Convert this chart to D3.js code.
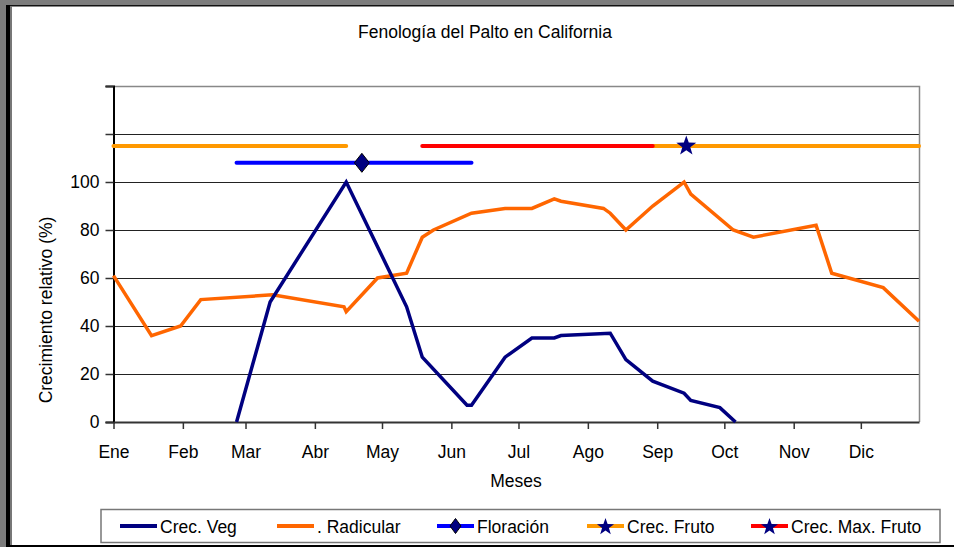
<!DOCTYPE html>
<html>
<head>
<meta charset="utf-8">
<script src="https://cdn.jsdelivr.net/npm/d3@7"></script>
<style>
  body { margin: 0; background: #fff; }
  text { font-family: "Liberation Sans", Arial, sans-serif; fill: #000; }
</style>
</head>
<body>
<div class="chart"></div>
<script>
// data (month-day, %)
const months = ["Ene", "Feb", "Mar", "Abr", "May", "Jun", "Jul", "Ago", "Sep", "Oct", "Nov", "Dic"];
const yTicks = [0, 20, 40, 60, 80, 100, 120, 140];
const yLabels = [0, 20, 40, 60, 80, 100];

const vegDates  = ["02-25","03-12","04-15","05-12","05-19","06-08","06-10","06-25","07-07","07-17","07-20","08-11","08-18","08-30","09-13","09-16","09-29","10-06"];
const vegValues = [0, 50, 100, 48, 27, 7, 7, 27, 35, 35, 36, 37, 26, 17, 12, 9, 6, 0];

const radDates  = ["01-01","01-18","01-31","02-09","03-13","04-14","04-15","04-29","05-12","05-19","05-24","06-10","06-25","07-07","07-17","07-20","08-08","08-11","08-18","08-30","09-13","09-16","10-05","10-14","11-11","11-18","12-11","12-27"];
const radValues = [61, 36, 40, 51, 53, 48, 46, 60, 62, 77, 80, 87, 89, 89, 93, 92, 89, 87, 80, 90, 100, 95, 80, 77, 82, 62, 56, 42];

// phenology bars
const floracion = {dates: ["02-25", "06-10"], value: 108, marker: "04-22"};
const frutoSegments = [["01-01", "04-15"], ["08-30", "12-27"]];
const frutoValue = 115;
const frutoMarker = "09-14";
const maxFruto = {dates: ["05-19", "08-30"], value: 115};

const legendItems = [
    {label: "Crec. Veg", color: "#000080", marker: null},
    {label: ". Radicular", color: "#ff6600", marker: null},
    {label: "Floración", color: "#0000ff", marker: "diamond"},
    {label: "Crec. Fruto", color: "#ff9900", marker: "star"},
    {label: "Crec. Max. Fruto", color: "#ff0000", marker: "star"}
];

const W = 954, H = 547;
const parse = d3.timeParse("%m-%d");

const svg = d3.select(".chart").append("svg")
    .attr("width", W)
    .attr("height", H);

// window frame
svg.append("rect").attr("x", 0).attr("y", 0).attr("width", W).attr("height", 5).attr("fill", "#7c7c7c");
svg.append("rect").attr("x", 0).attr("y", 5).attr("width", W).attr("height", 1.5).attr("fill", "#111");
svg.append("rect").attr("x", 0).attr("y", 0).attr("width", 6).attr("height", H).attr("fill", "#7c7c7c");
svg.append("rect").attr("x", 6).attr("y", 5).attr("width", 4).attr("height", H).attr("fill", "#000");
svg.append("rect").attr("x", 10).attr("y", 6).attr("width", 2).attr("height", H).attr("fill", "#777");
svg.append("rect").attr("x", 6).attr("y", 545).attr("width", W).attr("height", 2).attr("fill", "#000");

// scales
const x = d3.scaleTime()
    .domain([parse("01-01"), parse("12-27")])
    .range([113.5, 919]);
const y = d3.scaleLinear()
    .domain([0, 140])
    .range([422, 86]);

// title
svg.append("text")
    .attr("x", 485).attr("y", 38)
    .attr("text-anchor", "middle")
    .style("font-size", "17.5px")
    .text("Fenología del Palto en California");

// gridlines
svg.append("g")
    .selectAll("line")
    .data(yTicks.filter(d => d > 0 && d < 140))
    .join("line")
    .attr("x1", x.range()[0]).attr("x2", x.range()[1])
    .attr("y1", d => Math.round(y(d)) + 0.5).attr("y2", d => Math.round(y(d)) + 0.5)
    .attr("stroke", "#222")
    .attr("stroke-width", 1);

// plot border (top and right)
svg.append("path")
    .attr("d", `M${x.range()[0]},${y(140) + 0.5}H${x.range()[1] + 0.5}V${y(0)}`)
    .attr("fill", "none")
    .attr("stroke", "#888")
    .attr("stroke-width", 1.5);

// y axis
const yAxis = svg.append("g")
    .attr("transform", `translate(${x.range()[0]},0)`)
    .call(d3.axisLeft(y).tickValues(yTicks).tickSize(8).tickFormat(d => yLabels.includes(d) ? d : ""));
yAxis.select(".domain").attr("stroke", "#000").attr("stroke-width", 2);
yAxis.selectAll(".tick line").attr("stroke", "#333").attr("stroke-width", 1.5);
yAxis.selectAll(".tick text")
    .attr("x", -14)
    .style("font-size", "17.5px")
    .style("font-family", "'Liberation Sans', Arial, sans-serif");

// x axis
const xAxis = svg.append("g")
    .attr("transform", `translate(0,${y(0)})`)
    .call(d3.axisBottom(x)
        .ticks(d3.timeMonth.every(1))
        .tickSize(7)
        .tickSizeOuter(0)
        .tickFormat(d => months[d.getMonth()]));
xAxis.select(".domain").attr("stroke", "#333").attr("stroke-width", 2);
xAxis.selectAll(".tick line").attr("stroke", "#333").attr("stroke-width", 1.5);
xAxis.selectAll(".tick text")
    .attr("y", 24)
    .style("font-size", "17.5px")
    .style("font-family", "'Liberation Sans', Arial, sans-serif");

// axis titles
svg.append("text")
    .attr("x", 516).attr("y", 487)
    .attr("text-anchor", "middle")
    .style("font-size", "17.5px")
    .text("Meses");
svg.append("text")
    .attr("transform", "translate(52,310) rotate(-90)")
    .attr("text-anchor", "middle")
    .style("font-size", "17.5px")
    .text("Crecimiento relativo (%)");

const line = d3.line()
    .x(d => x(parse(d[0])))
    .y(d => y(d[1]));

// marker shapes
function diamondPath(w, h) {
    return `M0,${-h / 2}L${w / 2},0L0,${h / 2}L${-w / 2},0Z`;
}
function starPath(R, r) {
    const pts = d3.range(10).map(i => {
        const a = -Math.PI / 2 + i * Math.PI / 5;
        const rad = i % 2 === 0 ? R : r;
        return [rad * Math.cos(a), rad * Math.sin(a)];
    });
    return "M" + pts.join("L") + "Z";
}

// phenology bars
frutoSegments.forEach(seg => {
    svg.append("path")
        .datum(seg.map(d => [d, frutoValue]))
        .attr("d", line)
        .attr("fill", "none")
        .attr("stroke", "#ff9900")
        .attr("stroke-width", 4)
        .attr("stroke-linecap", "round");
});
svg.append("path")
    .datum(maxFruto.dates.map(d => [d, maxFruto.value]))
    .attr("d", line)
    .attr("fill", "none")
    .attr("stroke", "#ff0000")
    .attr("stroke-width", 4)
    .attr("stroke-linecap", "round");
svg.append("path")
    .datum(floracion.dates.map(d => [d, floracion.value]))
    .attr("d", line)
    .attr("fill", "none")
    .attr("stroke", "#0000ff")
    .attr("stroke-width", 4)
    .attr("stroke-linecap", "round");

// series lines
svg.append("path")
    .datum(radDates.map((d, i) => [d, radValues[i]]))
    .attr("d", line)
    .attr("fill", "none")
    .attr("stroke", "#ff6600")
    .attr("stroke-width", 3.5);
svg.append("path")
    .datum(vegDates.map((d, i) => [d, vegValues[i]]))
    .attr("d", line)
    .attr("fill", "none")
    .attr("stroke", "#000080")
    .attr("stroke-width", 3.5);

// markers
svg.append("path")
    .attr("transform", `translate(${x(parse(floracion.marker))},${y(floracion.value)})`)
    .attr("d", diamondPath(15, 19))
    .attr("fill", "#000080")
    .attr("stroke", "#000")
    .attr("stroke-width", 1);
svg.append("path")
    .attr("transform", `translate(${x(parse(frutoMarker))},${y(frutoValue)})`)
    .attr("d", starPath(10.5, 4.2))
    .attr("fill", "#000080");

// legend
const legendX = [120, 277, 437, 587, 751];
const legend = svg.append("g");
legend.append("rect")
    .attr("x", 101).attr("y", 509.5)
    .attr("width", 839).attr("height", 33)
    .attr("fill", "#fff")
    .attr("stroke", "#777")
    .attr("stroke-width", 1.5);

const items = legend.selectAll("g.item")
    .data(legendItems)
    .join("g")
    .attr("class", "item")
    .attr("transform", (d, i) => `translate(${legendX[i]},526)`);
items.append("line")
    .attr("x1", 0).attr("x2", 37)
    .attr("stroke", d => d.color)
    .attr("stroke-width", 4);
items.filter(d => d.marker === "diamond").append("path")
    .attr("transform", "translate(18.5,0)")
    .attr("d", diamondPath(11, 15))
    .attr("fill", "#000080")
    .attr("stroke", "#000")
    .attr("stroke-width", 1);
items.filter(d => d.marker === "star").append("path")
    .attr("transform", "translate(18.5,1)")
    .attr("d", starPath(9, 3.6))
    .attr("fill", "#000080");
items.append("text")
    .attr("x", 40).attr("y", 6.5)
    .style("font-size", "17.5px")
    .text(d => d.label);
</script>
</body>
</html>
